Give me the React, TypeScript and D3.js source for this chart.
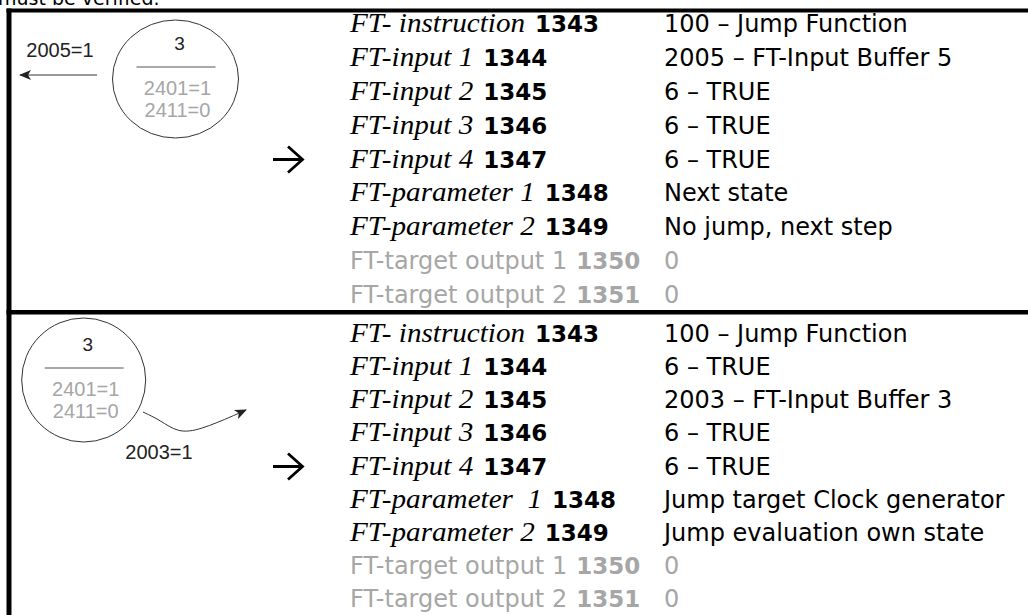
import React, { useLayoutEffect, useRef, useState } from "react";
import * as d3 from "d3";

const W = 1028;
const H = 615;

const headerText = "must be verified.";
const rowLabels1 = ["FT- instruction", "FT-input 1", "FT-input 2", "FT-input 3", "FT-input 4", "FT-parameter 1", "FT-parameter 2", "FT-target output 1", "FT-target output 2"];
const rowLabels2 = ["FT- instruction", "FT-input 1", "FT-input 2", "FT-input 3", "FT-input 4", "FT-parameter  1", "FT-parameter 2", "FT-target output 1", "FT-target output 2"];
const rowCodes = ["1343", "1344", "1345", "1346", "1347", "1348", "1349", "1350", "1351"];
const values1 = ["100 – Jump Function", "2005 – FT-Input Buffer 5", "6 – TRUE", "6 – TRUE", "6 – TRUE", "Next state", "No jump, next step", "0", "0"];
const values2 = ["100 – Jump Function", "6 – TRUE", "2003 – FT-Input Buffer 3", "6 – TRUE", "6 – TRUE", "Jump target Clock generator", "Jump evaluation own state", "0", "0"];
const inactiveFrom = 7;
const arrowRow = 4;

const stateNumber = ["3", "3"];
const stateConds = [["2401=1", "2411=0"], ["2401=1", "2411=0"]];
const transitionLabels = ["2005=1", "2003=1"];

const GRAY = "#a6a6a6";
const SANS = "'DejaVu Sans', Verdana, sans-serif";
const SERIF = "'Liberation Serif', 'Times New Roman', serif";
const DIAG = "'Liberation Sans', Arial, sans-serif";
const LABEL_X = 350;
const VALUE_X = 664;
const STRETCH = 1.1;

function RowArrow({ y }: { y: number }) {
  // the "→" symbol of the source document, drawn as a line with an open chevron head
  const p = d3.path();
  p.moveTo(273, y);
  p.lineTo(302, y);
  p.moveTo(288, y - 13);
  p.lineTo(302.5, y);
  p.lineTo(288, y + 13);
  return <path d={p.toString()} fill="none" stroke="#000" strokeWidth={2.8} strokeLinejoin="miter" aria-label="→" />;
}

function Table({ labels, values, y }: { labels: string[]; values: string[]; y: d3.ScaleLinear<number, number> }) {
  const refs = useRef<(SVGTextElement | null)[]>([]);
  const [widths, setWidths] = useState<number[]>(labels.map(() => 0));
  useLayoutEffect(() => {
    setWidths(labels.map((_, i) => {
      const el = refs.current[i];
      if (!el) return 0;
      const inactive = i >= inactiveFrom;
      return el.getComputedTextLength() * (inactive ? 1 : STRETCH);
    }));
  }, [labels]);
  return (
    <g>
      {labels.map((lab, i) => {
        const inactive = i >= inactiveFrom;
        const col = inactive ? GRAY : "#000";
        return (
          <g key={i}>
            {inactive ? (
              <text ref={(el) => { refs.current[i] = el; }} x={LABEL_X} y={y(i)} fontSize={24} fontFamily={SANS} fill={col} style={{ whiteSpace: "pre" }}>{lab}</text>
            ) : (
              <text ref={(el) => { refs.current[i] = el; }} transform={`translate(${LABEL_X},${y(i)}) scale(${STRETCH},1)`} fontSize={26.5} fontFamily={SERIF} fontStyle="italic" fill={col} style={{ whiteSpace: "pre" }}>{lab}</text>
            )}
            <text x={LABEL_X + widths[i] + (inactive ? 9 : 10)} y={y(i)} fontSize={23} fontFamily={SANS} fontWeight="bold" fill={col}>{rowCodes[i]}</text>
            <text x={VALUE_X} y={y(i)} fontSize={24} fontFamily={SANS} fill={col}>{values[i]}</text>
            {i === arrowRow && <RowArrow y={y(i) - 8} />}
          </g>
        );
      })}
    </g>
  );
}

function StateCircle({ cx, cy, rx, ry, idx }: { cx: number; cy: number; rx: number; ry: number; idx: number }) {
  return (
    <g>
      <ellipse cx={cx} cy={cy} rx={rx} ry={ry} fill="none" stroke="#333" strokeWidth={1} />
      <text x={cx + 4} y={cy - 29} fontSize={19} fontFamily={DIAG} fill="#222" textAnchor="middle">{stateNumber[idx]}</text>
      <line x1={cx - 39} x2={cx + 40} y1={cy - 12} y2={cy - 12} stroke="#555" strokeWidth={1} />
      <text x={cx + 2} y={cy + 16} fontSize={20} fontFamily={DIAG} fill={GRAY} textAnchor="middle">{stateConds[idx][0]}</text>
      <text x={cx + 2} y={cy + 38} fontSize={20} fontFamily={DIAG} fill={GRAY} textAnchor="middle">{stateConds[idx][1]}</text>
    </g>
  );
}

export default function App() {
  const y1 = d3.scaleLinear().domain([0, 8]).range([32, 303]);
  const y2 = d3.scaleLinear().domain([0, 8]).range([342, 607]);

  const curve = d3.line<[number, number]>().curve(d3.curveBasis);
  const wavePts: [number, number][] = [[143, 412], [160, 420], [178, 433], [200, 430], [235, 415], [246, 410]];

  return (
    <svg width={W} height={H} style={{ position: "absolute", left: 0, top: 0, background: "#fff" }}>
      <defs>
        <marker id="ah" viewBox="0 0 12 10" refX={11} refY={5} markerWidth={12} markerHeight={10} markerUnits="userSpaceOnUse" orient="auto">
          <path d="M0,0 L12,5 L0,10 L3,5 Z" fill="#222" />
        </marker>
      </defs>
      <rect x={0} y={0} width={W} height={H} fill="#fff" />
      <text x={-2} y={5} fontSize={19} fontFamily={SANS} fill="#000">{headerText}</text>

      {/* borders */}
      <rect x={6.5} y={8.5} width={W} height={4} fill="#000" />
      <rect x={6.5} y={8.5} width={5} height={H} fill="#000" />
      <rect x={6.5} y={310} width={W} height={4.5} fill="#000" />

      {/* diagram 1 */}
      <StateCircle cx={175.5} cy={79} rx={63} ry={59} idx={0} />
      <text x={60} y={57} fontSize={20} fontFamily={DIAG} fill="#222" textAnchor="middle">{transitionLabels[0]}</text>
      <line x1={97} y1={75} x2={20} y2={75} stroke="#333" strokeWidth={1} markerEnd="url(#ah)" />

      {/* diagram 2 */}
      <StateCircle cx={83.7} cy={380} rx={62} ry={62} idx={1} />
      <path d={curve(wavePts) || ""} fill="none" stroke="#333" strokeWidth={1} markerEnd="url(#ah)" />
      <text x={159} y={459} fontSize={20} fontFamily={DIAG} fill="#222" textAnchor="middle">{transitionLabels[1]}</text>

      <Table labels={rowLabels1} values={values1} y={y1} />
      <Table labels={rowLabels2} values={values2} y={y2} />
    </svg>
  );
}
